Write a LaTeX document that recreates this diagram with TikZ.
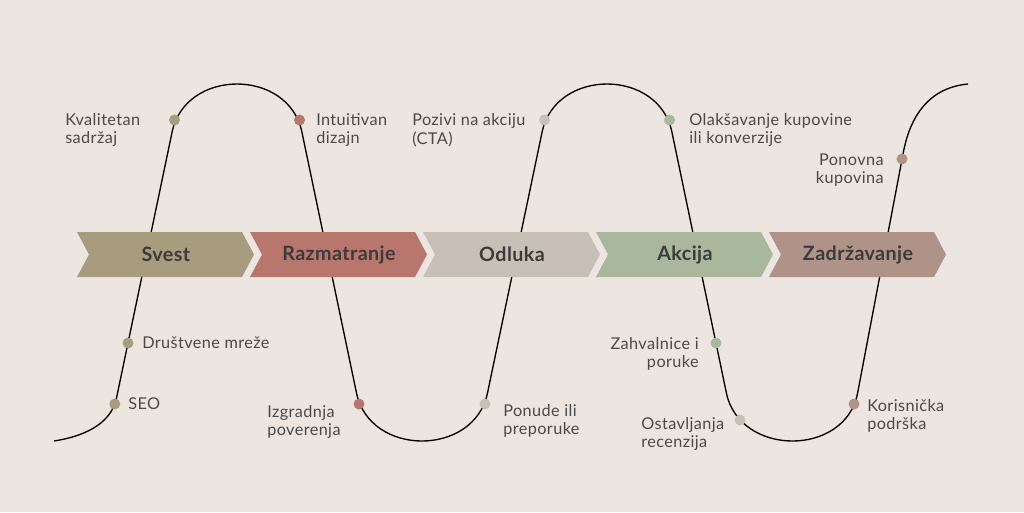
\documentclass[tikz,border=0pt]{standalone}
\usepackage{fontspec}
\setmainfont{Lato}
\usetikzlibrary{positioning}
\definecolor{bg}{HTML}{EDE5DF}
\definecolor{svest}{HTML}{A89C7E}
\definecolor{razm}{HTML}{B8766C}
\definecolor{odluka}{HTML}{C8BFB6}
\definecolor{akcija}{HTML}{A9B89D}
\definecolor{zadr}{HTML}{B09388}
\definecolor{txt}{HTML}{4A4A4A}
\definecolor{stagetxt}{HTML}{3B3B3B}

\begin{document}
\begin{tikzpicture}[%
      x=0.75pt, y=-0.75pt,
      dot/.style={circle, minimum size=8.25pt, inner sep=0pt},
      lbl/.style={text=txt, inner sep=0pt, font=\fontsize{12.2}{14}\selectfont\addfontfeature{LetterSpace=2.5}},
      stage/.style={text=stagetxt, inner sep=0pt, font=\fontsize{14.8}{16}\selectfont\bfseries\addfontfeature{LetterSpace=2}}
    ]
    \fill [bg] (0,0) rectangle (1024,512);
    \useasboundingbox (0,0) rectangle (1024,512);
    % the wave
    \draw [line width=1pt] (54,441) .. controls (80,437) and (110.6,426) .. (116.5,398)
      -- (172.1,132) .. controls (185.5,68) and (288.5,68) .. (301.9,132)
      -- (356.5,393) .. controls (369.9,457) and (474.1,457) .. (487.5,393)
      -- (542.1,132) .. controls (555.5,68) and (658.5,68) .. (671.9,132)
      -- (726.4,393) .. controls (739.8,457) and (845.4,457) .. (857.6,393)
      -- (903.4,152) .. controls (909.1,122) and (925,88) .. (968,84);
    % stages
    \foreach \i/\c/\t in {0/svest/Svest, 1/razm/Razmatranje, 2/odluka/Odluka, 3/akcija/Akcija, 4/zadr/Zadržavanje} {
      \fill [\c] ({77+173*\i},232) -- ++(165,0) -- ++(12,22.5) -- ++(-12,22.5) -- ++(-165,0) -- ++(12,-22.5) -- cycle;
      \node [stage] (s\i) at ({166+173*\i},254.5) {\t};
    }
    % points
    \node [dot, fill=svest] (1) at (174.5,120) {};
    \node [dot, fill=svest] (2) at (128,343) {};
    \node [dot, fill=svest] (3) at (114.8,404) {};
    \node [dot, fill=razm] (4) at (299.5,120) {};
    \node [dot, fill=razm] (5) at (359,404) {};
    \node [dot, fill=odluka] (6) at (544.5,120) {};
    \node [dot, fill=odluka] (7) at (485,404) {};
    \node [dot, fill=akcija] (8) at (669.5,120) {};
    \node [dot, fill=akcija] (9) at (716,343) {};
    \node [dot, fill=odluka] (10) at (740,420) {};
    \node [dot, fill=zadr] (11) at (854,404) {};
    \node [dot, fill=zadr] (12) at (902,159) {};
    % labels
    \node [lbl, align=left, anchor=west] (l1) at (65,130) {Kvalitetan\\sadržaj};
    \node [lbl, anchor=west] (l2) at (142,343) {Društvene mreže};
    \node [lbl, anchor=west] (l3) at (128,404) {SEO};
    \node [lbl, align=left, anchor=west] (l4) at (316,130) {Intuitivan\\dizajn};
    \node [lbl, align=left, anchor=west] (l5) at (267,422) {Izgradnja\\poverenja};
    \node [lbl, align=left, anchor=west] (l6) at (412,130) {Pozivi na akciju\\(CTA)};
    \node [lbl, align=left, anchor=west] (l7) at (503,421) {Ponude ili\\preporuke};
    \node [lbl, align=left, anchor=west] (l8) at (689,130) {Olakšavanje kupovine\\ili konverzije};
    \node [lbl, align=right, anchor=east] (l9) at (699,354) {Zahvalnice i\\poruke};
    \node [lbl, align=left, anchor=west] (l10) at (641,434) {Ostavljanja\\recenzija};
    \node [lbl, align=left, anchor=west] (l11) at (867,416) {Korisnička\\podrška};
    \node [lbl, align=right, anchor=east] (l12) at (884,170) {Ponovna\\kupovina};
  \end{tikzpicture}
\end{document}
